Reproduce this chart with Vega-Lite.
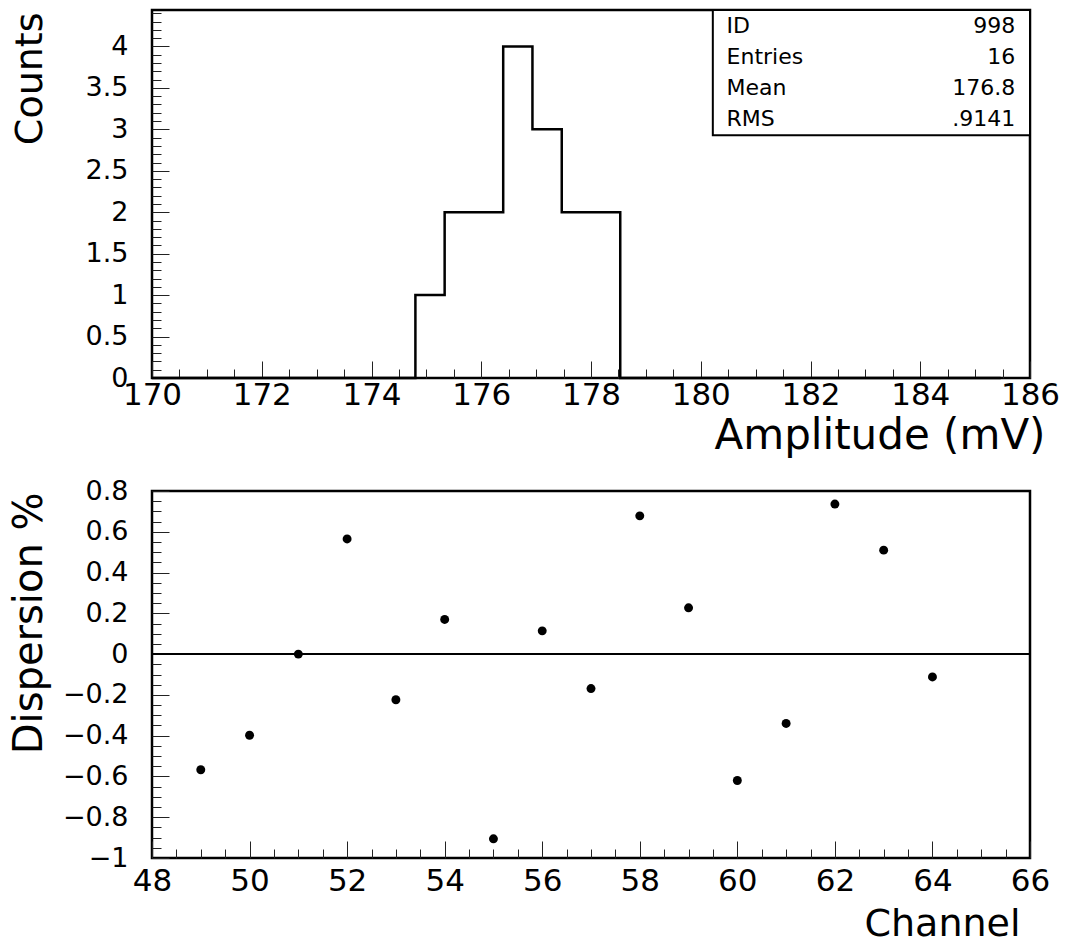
{
  "$schema": "https://vega.github.io/schema/vega-lite/v6.json",
  "background": "white",
  "padding": {"left": 7, "top": 7, "right": 0, "bottom": 0},
  "autosize": {"type": "pad"},
  "spacing": 17,
  "config": {
    "font": "DejaVu Sans",
    "view": {"stroke": "black", "strokeWidth": 2.5},
    "axis": {
      "domain": false, "grid": false, "tickColor": "#222", "tickWidth": 1,
      "labelColor": "black", "titleColor": "black",
      "labelFont": "DejaVu Sans", "titleFont": "DejaVu Sans", "titleFontWeight": "normal",
      "labelFlush": false, "labelOverlap": false, "labelBound": false
    }
  },
  "datasets": {
    "hist": [
      {"bin_start": 170.0, "bin_end": 170.533, "count": 0},
      {"bin_start": 170.533, "bin_end": 171.067, "count": 0},
      {"bin_start": 171.067, "bin_end": 171.6, "count": 0},
      {"bin_start": 171.6, "bin_end": 172.133, "count": 0},
      {"bin_start": 172.133, "bin_end": 172.667, "count": 0},
      {"bin_start": 172.667, "bin_end": 173.2, "count": 0},
      {"bin_start": 173.2, "bin_end": 173.733, "count": 0},
      {"bin_start": 173.733, "bin_end": 174.267, "count": 0},
      {"bin_start": 174.267, "bin_end": 174.8, "count": 0},
      {"bin_start": 174.8, "bin_end": 175.333, "count": 1},
      {"bin_start": 175.333, "bin_end": 175.867, "count": 2},
      {"bin_start": 175.867, "bin_end": 176.4, "count": 2},
      {"bin_start": 176.4, "bin_end": 176.933, "count": 4},
      {"bin_start": 176.933, "bin_end": 177.467, "count": 3},
      {"bin_start": 177.467, "bin_end": 178.0, "count": 2},
      {"bin_start": 178.0, "bin_end": 178.533, "count": 2},
      {"bin_start": 178.533, "bin_end": 179.067, "count": 0},
      {"bin_start": 179.067, "bin_end": 179.6, "count": 0},
      {"bin_start": 179.6, "bin_end": 180.133, "count": 0},
      {"bin_start": 180.133, "bin_end": 180.667, "count": 0},
      {"bin_start": 180.667, "bin_end": 181.2, "count": 0},
      {"bin_start": 181.2, "bin_end": 181.733, "count": 0},
      {"bin_start": 181.733, "bin_end": 182.267, "count": 0},
      {"bin_start": 182.267, "bin_end": 182.8, "count": 0},
      {"bin_start": 182.8, "bin_end": 183.333, "count": 0},
      {"bin_start": 183.333, "bin_end": 183.867, "count": 0},
      {"bin_start": 183.867, "bin_end": 184.4, "count": 0},
      {"bin_start": 184.4, "bin_end": 184.933, "count": 0},
      {"bin_start": 184.933, "bin_end": 185.467, "count": 0},
      {"bin_start": 185.467, "bin_end": 186.0, "count": 0}
    ],
    "stats": [
      {"stat": "ID", "value": "998"},
      {"stat": "Entries", "value": "16"},
      {"stat": "Mean", "value": "176.8"},
      {"stat": "RMS", "value": ".9141"}
    ],
    "disp": [
      {"channel": 49, "dispersion": -0.567},
      {"channel": 50, "dispersion": -0.398},
      {"channel": 51, "dispersion": 0.0},
      {"channel": 52, "dispersion": 0.565},
      {"channel": 53, "dispersion": -0.224},
      {"channel": 54, "dispersion": 0.17},
      {"channel": 55, "dispersion": -0.906},
      {"channel": 56, "dispersion": 0.114},
      {"channel": 57, "dispersion": -0.169},
      {"channel": 58, "dispersion": 0.678},
      {"channel": 59, "dispersion": 0.227},
      {"channel": 60, "dispersion": -0.62},
      {"channel": 61, "dispersion": -0.34},
      {"channel": 62, "dispersion": 0.736},
      {"channel": 63, "dispersion": 0.51},
      {"channel": 64, "dispersion": -0.112}
    ]
  },
  "vconcat": [
    {
      "width": 878,
      "height": 368,
      "resolve": {"scale": {"y": "independent"}, "axis": {"x": "independent", "y": "independent"}},
      "layer": [
        {
          "data": {"name": "hist"},
          "mark": {"type": "line", "interpolate": "step-after", "color": "black", "strokeWidth": 2.5},
          "encoding": {
            "x": {
              "field": "bin_start", "type": "quantitative",
              "scale": {"domain": [170, 186], "nice": false, "zero": false},
              "axis": {
                "orient": "bottom", "values": [170, 172, 174, 176, 178, 180, 182, 184, 186],
                "format": "d", "tickSize": -17, "labelPadding": 19, "labelFontSize": 31,
                "title": "Amplitude (mV)", "titleFontSize": 42, "titleAlign": "right",
                "titleX": 893, "titleY": 70, "titleBaseline": "alphabetic"
              }
            },
            "y": {
              "field": "count", "type": "quantitative",
              "scale": {"domain": [0, 4.44], "nice": false},
              "axis": {
                "orient": "left", "values": [0, 0.5, 1, 1.5, 2, 2.5, 3, 3.5, 4],
                "format": "~f", "tickSize": -17, "labelPadding": 41, "labelFontSize": 27,
                "title": "Counts", "titleFontSize": 38, "titleAngle": 270, "titleAlign": "right",
                "titleBaseline": "alphabetic", "titleX": -111, "titleY": 2
              }
            }
          }
        },
        {
          "data": {"values": [{}]},
          "mark": {"type": "rect", "fill": "white", "stroke": "black", "strokeWidth": 2},
          "encoding": {
            "x": {
              "datum": 180.22,
              "axis": {
                "orient": "bottom",
                "values": [170.5, 171, 171.5, 172.5, 173, 173.5, 174.5, 175, 175.5, 176.5, 177, 177.5, 178.5, 179, 179.5, 180.5, 181, 181.5, 182.5, 183, 183.5, 184.5, 185, 185.5],
                "tickSize": -9, "labels": false, "title": null
              }
            },
            "x2": {"datum": 186},
            "y": {
              "datum": 2.93,
              "scale": {"domain": [0, 4.44], "nice": false},
              "axis": {
                "orient": "left",
                "values": [0.1, 0.2, 0.3, 0.4, 0.6, 0.7, 0.8, 0.9, 1.1, 1.2, 1.3, 1.4, 1.6, 1.7, 1.8, 1.9, 2.1, 2.2, 2.3, 2.4, 2.6, 2.7, 2.8, 2.9, 3.1, 3.2, 3.3, 3.4, 3.6, 3.7, 3.8, 3.9, 4.1, 4.2, 4.3, 4.4],
                "tickSize": -9, "labels": false, "title": null
              }
            },
            "y2": {"datum": 4.44}
          }
        },
        {
          "data": {"name": "stats"},
          "mark": {"type": "text", "align": "left", "baseline": "middle", "fontSize": 22, "color": "black", "font": "DejaVu Sans"},
          "encoding": {
            "x": {"datum": 180.47, "axis": null},
            "y": {
              "field": "stat", "type": "nominal",
              "scale": {"type": "band", "domain": ["ID", "Entries", "Mean", "RMS"], "range": [0, 125], "paddingInner": 0, "paddingOuter": 0},
              "axis": null
            },
            "text": {"field": "stat"}
          }
        },
        {
          "data": {"name": "stats"},
          "mark": {"type": "text", "align": "right", "baseline": "middle", "fontSize": 22, "color": "black", "font": "DejaVu Sans"},
          "encoding": {
            "x": {"datum": 185.73, "axis": null},
            "y": {
              "field": "stat", "type": "nominal",
              "scale": {"type": "band", "domain": ["ID", "Entries", "Mean", "RMS"], "range": [0, 125], "paddingInner": 0, "paddingOuter": 0},
              "axis": null
            },
            "text": {"field": "value"}
          }
        }
      ]
    },
    {
      "width": 878,
      "height": 367,
      "resolve": {"axis": {"x": "independent", "y": "independent"}},
      "layer": [
        {
          "data": {"values": [{}]},
          "mark": {"type": "rule", "color": "black", "strokeWidth": 2},
          "encoding": {
            "x": {
              "datum": 48,
              "axis": {
                "orient": "bottom",
                "values": [48.5, 49, 49.5, 50.5, 51, 51.5, 52.5, 53, 53.5, 54.5, 55, 55.5, 56.5, 57, 57.5, 58.5, 59, 59.5, 60.5, 61, 61.5, 62.5, 63, 63.5, 64.5, 65, 65.5],
                "tickSize": -9, "labels": false, "title": null
              }
            },
            "x2": {"datum": 66},
            "y": {
              "datum": 0,
              "axis": {
                "orient": "left",
                "values": [-0.95, -0.9, -0.85, -0.75, -0.7, -0.65, -0.55, -0.5, -0.45, -0.35, -0.3, -0.25, -0.15, -0.1, -0.05, 0.05, 0.1, 0.15, 0.25, 0.3, 0.35, 0.45, 0.5, 0.55, 0.65, 0.7, 0.75],
                "tickSize": -9, "labels": false, "title": null
              }
            }
          }
        },
        {
          "data": {"name": "disp"},
          "mark": {"type": "circle", "size": 80, "color": "black", "opacity": 1},
          "encoding": {
            "x": {
              "field": "channel", "type": "quantitative",
              "scale": {"domain": [48, 66], "nice": false, "zero": false},
              "axis": {
                "orient": "bottom", "values": [48, 50, 52, 54, 56, 58, 60, 62, 64, 66],
                "format": "d", "tickSize": -17, "labelPadding": 25, "labelFontSize": 31,
                "title": "Channel", "titleFontSize": 38, "titleAlign": "right",
                "titleX": 868, "titleY": 77, "titleBaseline": "alphabetic"
              }
            },
            "y": {
              "field": "dispersion", "type": "quantitative",
              "scale": {"domain": [-1, 0.8], "nice": false},
              "axis": {
                "orient": "left", "values": [-1, -0.8, -0.6, -0.4, -0.2, 0, 0.2, 0.4, 0.6, 0.8],
                "format": "~f", "tickSize": -17, "labelPadding": 41, "labelFontSize": 27,
                "title": "Dispersion %", "titleFontSize": 40, "titleAngle": 270, "titleAlign": "right",
                "titleBaseline": "alphabetic", "titleX": -111, "titleY": 1
              }
            }
          }
        }
      ]
    }
  ]
}
